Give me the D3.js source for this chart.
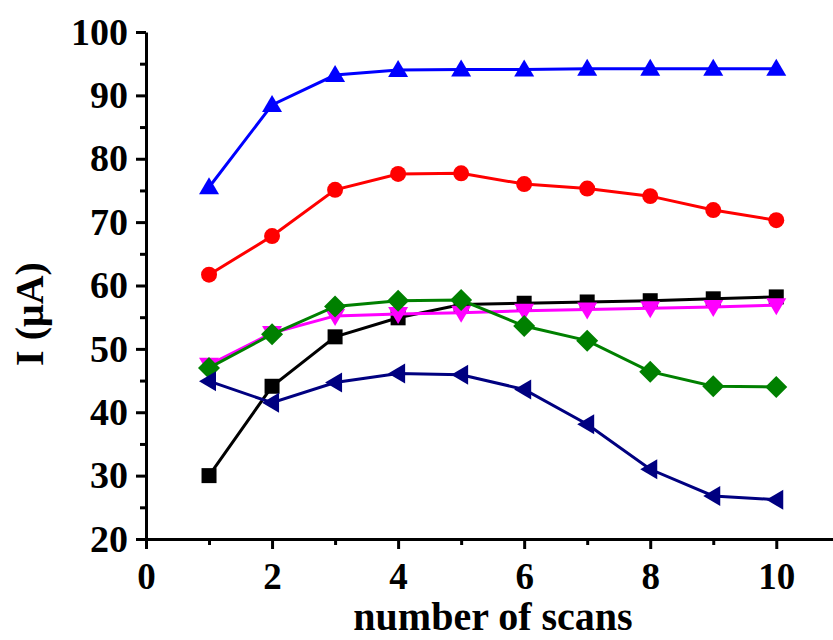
<!DOCTYPE html>
<html>
<head>
<meta charset="utf-8">
<script src="https://cdn.jsdelivr.net/npm/d3@7"></script>
<style>
  body { margin: 0; background: #fff; }
  text { font-family: "Liberation Serif", "Times New Roman", serif; font-weight: bold; }
</style>
</head>
<body>
<div id="container"></div>
<script>
// Chart size and plot box
const width = 833;
const height = 640;
const marginTop = 32;
const marginLeft = 146;
const plotRight = 833;
const plotBottom = 539;

// Data
const scans = [1, 2, 3, 4, 5, 6, 7, 8, 9, 10];
const blackSquares = [30.0, 44.1, 51.9, 54.9, 57.0, 57.2, 57.4, 57.6, 57.9, 58.2];
const redCircles = [61.7, 67.8, 75.1, 77.6, 77.7, 76.0, 75.3, 74.1, 71.9, 70.3];
const blueUp = [75.5, 88.5, 93.2, 94.0, 94.1, 94.1, 94.2, 94.2, 94.2, 94.2];
const magentaDown = [47.5, 52.5, 55.2, 55.5, 55.7, 56.0, 56.2, 56.4, 56.6, 56.9];
const greenDiamonds = [47.0, 52.3, 56.7, 57.6, 57.7, 53.6, 51.3, 46.4, 44.1, 44.0];
const navyLeft = [44.9, 41.5, 44.7, 46.1, 45.9, 43.6, 38.1, 31.0, 26.8, 26.2];

const xTicks = [0, 2, 4, 6, 8, 10];
const yTicks = [20, 30, 40, 50, 60, 70, 80, 90, 100];

const series = [
  { values: blackSquares, color: "#000000", symbol: "square" },
  { values: redCircles, color: "#ff0000", symbol: "circle" },
  { values: blueUp, color: "#0000ff", symbol: "up" },
  { values: magentaDown, color: "#ff00ff", symbol: "down" },
  { values: greenDiamonds, color: "#008000", symbol: "diamond" },
  { values: navyLeft, color: "#000080", symbol: "left" }
];

const x = d3.scaleLinear().domain([0, 10.9]).range([marginLeft, plotRight]);
const y = d3.scaleLinear().domain([20, 100]).range([plotBottom, marginTop]);

const svg = d3.select("#container")
  .append("svg")
  .attr("width", width)
  .attr("height", height);

// minor ticks
svg.append("g")
  .attr("transform", `translate(0,${plotBottom})`)
  .call(d3.axisBottom(x).tickValues([1, 3, 5, 7, 9]).tickSize(6).tickFormat(""))
  .call(g => g.select(".domain").remove())
  .call(g => g.selectAll("line").attr("stroke-width", 3));
svg.append("g")
  .attr("transform", `translate(${marginLeft},0)`)
  .call(d3.axisLeft(y).tickValues([25, 35, 45, 55, 65, 75, 85, 95]).tickSize(6).tickFormat(""))
  .call(g => g.select(".domain").remove())
  .call(g => g.selectAll("line").attr("stroke-width", 3));

// x axis
svg.append("g")
  .attr("transform", `translate(0,${plotBottom})`)
  .call(d3.axisBottom(x).tickValues(xTicks).tickSize(10).tickSizeOuter(0).tickPadding(14))
  .call(g => g.select(".domain").attr("stroke-width", 3))
  .call(g => g.selectAll("line").attr("stroke-width", 3))
  .call(g => g.selectAll("text").attr("font-size", 37).attr("fill", "#000")
    .attr("font-family", "Liberation Serif").attr("font-weight", "bold"));

// y axis
svg.append("g")
  .attr("transform", `translate(${marginLeft},0)`)
  .call(d3.axisLeft(y).tickValues(yTicks).tickSize(10).tickSizeOuter(0).tickPadding(8))
  .call(g => g.select(".domain").attr("stroke-width", 3))
  .call(g => g.selectAll("line").attr("stroke-width", 3))
  .call(g => g.selectAll("text").attr("font-size", 38).attr("fill", "#000")
    .attr("font-family", "Liberation Serif").attr("font-weight", "bold"));

// axis titles
svg.append("text")
  .attr("x", 493)
  .attr("y", 630)
  .attr("text-anchor", "middle")
  .attr("font-size", 40)
  .text("number of scans");

svg.append("text")
  .attr("transform", "translate(43,314) rotate(-90)")
  .attr("text-anchor", "middle")
  .attr("font-size", 40)
  .text("I (μA)");

const line = d3.line().x((d, i) => x(scans[i])).y(d => y(d));

function markerPath(symbol) {
  switch (symbol) {
    case "square": return "M-7.5,-7.5H7.5V7.5H-7.5Z";
    case "circle": return d3.symbol(d3.symbolCircle, 200)();
    case "up": return "M0,-10L10,7H-10Z";
    case "down": return "M0,10L10,-7H-10Z";
    case "diamond": return "M0,-11L11,0L0,11L-11,0Z";
    case "left": return "M-10,0L7,-10V10Z";
  }
}

series.forEach(s => {
  const g = svg.append("g");
  g.append("path")
    .datum(s.values)
    .attr("d", line)
    .attr("fill", "none")
    .attr("stroke", s.color)
    .attr("stroke-width", 3);
  g.selectAll("path.m")
    .data(s.values)
    .enter()
    .append("path")
    .attr("class", "m")
    .attr("transform", (d, i) => `translate(${x(scans[i])},${y(d)})`)
    .attr("d", markerPath(s.symbol))
    .attr("fill", s.color);
});
</script>
</body>
</html>
